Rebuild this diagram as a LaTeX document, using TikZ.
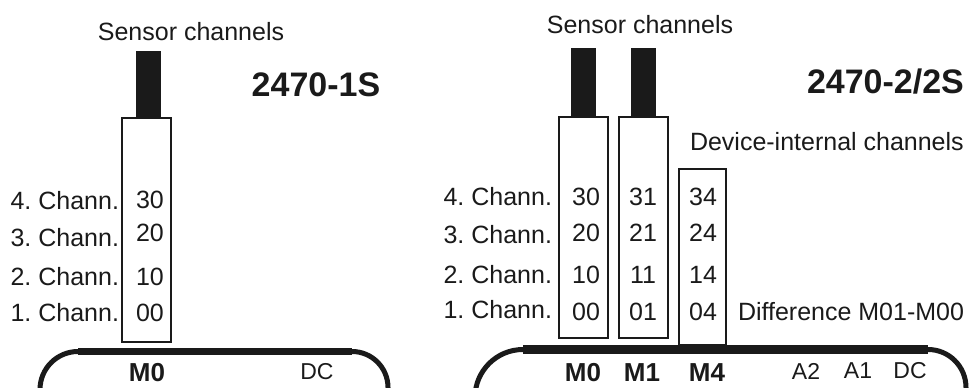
\documentclass[tikz,border=0pt]{standalone}
\usepackage{fontspec}
\setmainfont{Liberation Sans}
\frenchspacing
\definecolor{ink}{HTML}{1A1A1A}
\newcommand\fsz[1]{\fontsize{#1}{#1}\selectfont}
\tikzset{
  txt/.style={inner sep=0pt, outer sep=0pt, text=ink, font=\fsz{25}},
  ttl/.style={inner sep=0pt, outer sep=0pt, text=ink, font=\fsz{34}\bfseries},
  mlab/.style={inner sep=0pt, outer sep=0pt, text=ink, font=\fsz{26}\bfseries},
  alab/.style={inner sep=0pt, outer sep=0pt, text=ink, font=\fsz{23}},
  chbox/.style={draw=ink, line width=1.3pt},
  plug/.style={fill=ink, draw=none},
  housing/.style={draw=ink, line width=5pt},
  busbar/.style={draw=ink, line width=#1}
}
\begin{document}
\begin{tikzpicture}[x=1pt,y=-1pt]
\useasboundingbox (0,0) rectangle (970,388);
\clip (0,0) rectangle (970,388);

% ---------------- left device 2470-1S ----------------
\node[txt] (sensL) at (191,32) {Sensor channels};
\fill[plug] (136,51) rectangle (161,118);
\draw[chbox] (122,118) rectangle (171,342);
\node[ttl] (titleL) at (316,85) {2470-1S};

\node[txt, anchor=east] (l4) at (119,201) {4. Chann.};
\node[txt, anchor=east] (l3) at (119,238) {3. Chann.};
\node[txt, anchor=east] (l2) at (119,277) {2. Chann.};
\node[txt, anchor=east] (l1) at (119,313) {1. Chann.};
\node[txt] (n30) at (150,200) {30};
\node[txt] (n20) at (150,233) {20};
\node[txt] (n10) at (150,277) {10};
\node[txt] (n00) at (150,313) {00};

\draw[housing] (40,400) -- (40,389.5) arc[start angle=180, end angle=270, radius=38]
  -- (352,351.5) arc[start angle=270, end angle=360, radius=36] -- (388,400);
\draw[busbar=7pt] (78,351.5) -- (352,351.5);
\node[mlab] (mL0) at (147,373) {M0};
\node[alab] (dcL) at (317,372) {DC};

% ---------------- right device 2470-2/2S ----------------
\node[txt] (sensR) at (640,25) {Sensor channels};
\fill[plug] (571,48) rectangle (596,117);
\fill[plug] (631,48) rectangle (656,117);
\draw[chbox] (559,117) rectangle (608,338);
\draw[chbox] (619,117) rectangle (668,338);
\draw[chbox] (679,169) rectangle (726,345);
\node[ttl, anchor=west] (titleR) at (807,82) {2470-2/2S};
\node[txt, anchor=west] (devR) at (690,142) {Device-internal channels};

\node[txt, anchor=east] (r4) at (552,197) {4. Chann.};
\node[txt, anchor=east] (r3) at (552,235) {3. Chann.};
\node[txt, anchor=east] (r2) at (552,275) {2. Chann.};
\node[txt, anchor=east] (r1) at (552,310) {1. Chann.};
\node[txt] (m30) at (586,197) {30};
\node[txt] (m20) at (586,233) {20};
\node[txt] (m10) at (586,275) {10};
\node[txt] (m00) at (586,312) {00};
\node[txt] (m31) at (643,197) {31};
\node[txt] (m21) at (643,233) {21};
\node[txt] (m11) at (643,275) {11};
\node[txt] (m01) at (643,312) {01};
\node[txt] (m34) at (703,197) {34};
\node[txt] (m24) at (703,233) {24};
\node[txt] (m14) at (703,275) {14};
\node[txt] (m04) at (703,312) {04};
\node[txt, anchor=west] (diff) at (738,312) {Difference M01-M00};

\draw[housing] (475,400) -- (475,397.5) arc[start angle=180, end angle=270, radius=48]
  -- (928,349.5) arc[start angle=270, end angle=360, radius=38] -- (966,400);
\draw[busbar=9pt] (523,349.5) -- (928,349.5);
\node[mlab] (mR0) at (583,373) {M0};
\node[mlab] (mR1) at (642,373) {M1};
\node[mlab] (mR4) at (707,373) {M4};
\node[alab] (a2) at (806,371) {A2};
\node[alab] (a1) at (858,371) {A1};
\node[alab] (dcR) at (910,371) {DC};
\end{tikzpicture}
\end{document}
